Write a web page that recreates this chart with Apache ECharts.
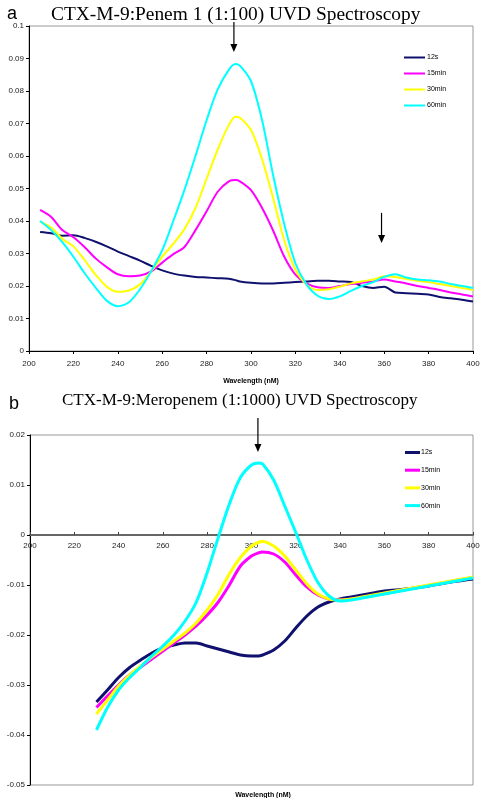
<!DOCTYPE html>
<html><head><meta charset="utf-8">
<script src="https://cdn.jsdelivr.net/npm/echarts@6/dist/echarts.min.js"></script>
<style>html,body{margin:0;padding:0;background:#fff}#c{width:480px;height:798px}</style>
</head><body><div id="c"></div>
<script>
// ---- Panel a data (CTX-M-9 : Penem 1) ----
const WL_A = [205,210,215,220,225,230,235,240,245,250,255,260,265,270,275,280,285,290,293,295,300,305,310,315,320,325,330,335,340,345,350,355,360,365,370,375,380,385,390,395,400];
const A_12S = [.0366,.0362,.0355,.0356,.0348,.0336,.0322,.0306,.0292,.0278,.0262,.0248,.0238,.0232,.0228,.0226,.0224,.0222,.0218,.0214,.0210,.0208,.0208,.0210,.0212,.0214,.0216,.0216,.0214,.0212,.0200,.0194,.0198,.0180,.0178,.0176,.0174,.0166,.0162,.0158,.0152];
const A_15M = [.0434,.0412,.0372,.0350,.0320,.0285,.0258,.0236,.0230,.0232,.0245,.0272,.0298,.0320,.0372,.0430,.0490,.0522,.0526,.0522,.0495,.0440,.0370,.0290,.0235,.0208,.0196,.0194,.0200,.0206,.0210,.0214,.0220,.0214,.0208,.0200,.0194,.0188,.0180,.0174,.0168];
const A_30M = [.0398,.0380,.0345,.0322,.0280,.0235,.0198,.0182,.0186,.0205,.0245,.0290,.0330,.0375,.0440,.0530,.0620,.0695,.0721,.0718,.0680,.0590,.0470,.0340,.0250,.0205,.0188,.0190,.0198,.0208,.0214,.0220,.0230,.0228,.0222,.0216,.0212,.0206,.0200,.0194,.0188];
const A_60M = [.0400,.0372,.0335,.0290,.0240,.0195,.0155,.0138,.0150,.0190,.0245,.0310,.0400,.0495,.0600,.0710,.0805,.0865,.0883,.0878,.0830,.0710,.0540,.0390,.0270,.0205,.0170,.0160,.0168,.0185,.0200,.0212,.0228,.0236,.0226,.0220,.0218,.0214,.0206,.0200,.0194];

// ---- Panel b data (CTX-M-9 : Meropenem) ----
const WL_B = [230,235,240,245,250,255,260,265,270,275,280,285,290,295,300,303,305,310,315,320,325,330,335,340,345,350,355,360,365,370,375,380,385,390,395,400];
const B_12S = [-.0334,-.0310,-.0285,-.0265,-.0250,-.0236,-.0226,-.0220,-.0216,-.0216,-.0222,-.0228,-.0234,-.0240,-.0242,-.0242,-.0240,-.0230,-.0212,-.0186,-.0162,-.0144,-.0134,-.0128,-.0124,-.0120,-.0116,-.0112,-.0110,-.0108,-.0105,-.0102,-.0098,-.0094,-.0091,-.0088];
const B_15M = [-.0345,-.0322,-.0300,-.0280,-.0264,-.0248,-.0232,-.0216,-.0200,-.0182,-.0160,-.0134,-.0100,-.0062,-.0042,-.0036,-.0034,-.0038,-.0054,-.0080,-.0104,-.0120,-.0128,-.0130,-.0128,-.0125,-.0121,-.0117,-.0113,-.0109,-.0105,-.0101,-.0097,-.0093,-.0089,-.0085];
const B_30M = [-.0358,-.0330,-.0302,-.0280,-.0262,-.0244,-.0228,-.0212,-.0196,-.0176,-.0150,-.0118,-.0078,-.0045,-.0022,-.0015,-.0013,-.0022,-.0042,-.0070,-.0098,-.0118,-.0128,-.0130,-.0128,-.0124,-.0120,-.0116,-.0112,-.0108,-.0104,-.0100,-.0096,-.0092,-.0088,-.0084];
const B_60M = [-.0390,-.0345,-.0310,-.0285,-.0264,-.0242,-.0222,-.0200,-.0172,-.0135,-.0075,-.0005,.0062,.0115,.0140,.0144,.0142,.0110,.0058,.0005,-.0050,-.0095,-.0122,-.0132,-.0130,-.0126,-.0122,-.0118,-.0114,-.0110,-.0106,-.0102,-.0098,-.0094,-.0090,-.0086];

const SERIES_NAMES = ['12s','15min','30min','60min'];
const COLORS = ['#10106e','#ff00ff','#ffff00','#00ffff'];
const TITLE_A = 'CTX-M-9:Penem 1 (1:100) UVD Spectroscopy';
const TITLE_B = 'CTX-M-9:Meropenem (1:1000) UVD Spectroscopy';
// arrows: [wavelength, from value, to value]
const ARROWS_A = [[292.3, 0.1012, 0.0920],[358.8, 0.0425, 0.0332]];
const ARROWS_B = [[302.9, 0.0234, 0.0166]];

const pair = (xs, ys) => xs.map((x,i)=>[x, ys[i]]);
const lab = {fontFamily:'Liberation Sans', fontSize:8, color:'#222'};
const nameSt = {fontFamily:'Liberation Sans', fontSize:7, fontWeight:'bold', color:'#000'};

const seriesA = [A_12S,A_15M,A_30M,A_60M].map((d,i)=>({
  name:SERIES_NAMES[i], type:'line', xAxisIndex:0, yAxisIndex:0, data:pair(WL_A,d),
  showSymbol:false, smooth:0.3, lineStyle:{width:2, color:COLORS[i]}, itemStyle:{color:COLORS[i]}, z:2+i
}));
const seriesB = [B_12S,B_15M,B_30M,B_60M].map((d,i)=>({
  name:SERIES_NAMES[i], type:'line', xAxisIndex:1, yAxisIndex:1, data:pair(WL_B,d),
  showSymbol:false, smooth:0.3, lineStyle:{width:3, color:COLORS[i]}, itemStyle:{color:COLORS[i]}, z:2+i
}));

const fmt = v => String(+v.toFixed(2));

const chart = echarts.init(document.getElementById('c'), null, {renderer:'canvas'});
chart.setOption({
  animation:false,
  backgroundColor:'#fff',
  title:[
    {text:'a', left:2, top:0, textStyle:{fontFamily:'Liberation Sans', fontSize:18, fontWeight:'normal', color:'#000'}},
    {text:TITLE_A, left:46, top:0, textStyle:{fontFamily:'Liberation Serif', fontSize:19.4, fontWeight:'normal', color:'#000'}},
    {text:'b', left:4, top:390, textStyle:{fontFamily:'Liberation Sans', fontSize:18, fontWeight:'normal', color:'#000'}},
    {text:TITLE_B, left:57, top:387, textStyle:{fontFamily:'Liberation Serif', fontSize:17, fontWeight:'normal', color:'#000'}},
    {text:'Wavelength (nM)', left:258, textAlign:'center', top:787, textStyle:nameSt}
  ],
  legend:[
    {data:SERIES_NAMES, orient:'vertical', left:399, top:49, icon:'rect', itemWidth:21, itemHeight:2, itemGap:9,
     textStyle:{fontFamily:'Liberation Sans', fontSize:7, color:'#000', padding:[0,0,0,-3]}, selectedMode:false},
    {data:SERIES_NAMES, orient:'vertical', left:400, top:444, icon:'rect', itemWidth:15, itemHeight:3, itemGap:10.7,
     textStyle:{fontFamily:'Liberation Sans', fontSize:7, color:'#000', padding:[0,0,0,-4]}, selectedMode:false}
  ],
  grid:[
    {left:29, right:7, top:26, height:325, show:true, borderColor:'#999', borderWidth:1, outerBoundsMode:'none', containLabel:false},
    {left:30, right:7, top:435, height:350, show:true, borderColor:'#999', borderWidth:1, outerBoundsMode:'none', containLabel:false}
  ],
  xAxis:[
    {type:'value', gridIndex:0, min:200, max:400, interval:20,
     axisLine:{lineStyle:{color:'#000', width:1}}, axisTick:{show:true, length:3, lineStyle:{color:'#000'}},
     axisLabel:Object.assign({margin:9}, lab), splitLine:{show:false},
     name:'Wavelength (nM)', nameLocation:'middle', nameGap:27, nameTextStyle:nameSt},
    {type:'value', gridIndex:1, min:200, max:400, interval:20, position:'bottom', offset:-250,
     axisLine:{onZero:false, lineStyle:{color:'#666', width:2}}, axisTick:{show:true, length:3, inside:true, lineStyle:{color:'#444'}},
     axisLabel:Object.assign({margin:7}, lab), splitLine:{show:false}}
  ],
  yAxis:[
    {type:'value', gridIndex:0, min:0, max:0.1, interval:0.01,
     axisLine:{show:true, lineStyle:{color:'#000'}}, axisTick:{show:true, length:3, lineStyle:{color:'#000'}},
     axisLabel:Object.assign({margin:5, formatter:fmt}, lab), splitLine:{show:false},
     name:'Absorbance', nameLocation:'middle', nameGap:21, nameTextStyle:nameSt},
    {type:'value', gridIndex:1, min:-0.05, max:0.02, interval:0.01,
     axisLine:{show:true, onZero:false, lineStyle:{color:'#000'}}, axisTick:{show:true, length:3, lineStyle:{color:'#000'}},
     axisLabel:Object.assign({margin:5, formatter:fmt}, lab), splitLine:{show:false},
     name:'Absorbance', nameLocation:'middle', nameGap:21, nameTextStyle:nameSt}
  ],
  series: seriesA.concat(seriesB)
});

// Annotation arrows positioned through the axes' scales
function arrowGraphics(list, gridIndex){
  const out = [];
  list.forEach(a=>{
    const p1 = chart.convertToPixel({gridIndex}, [a[0], a[1]]);
    const p2 = chart.convertToPixel({gridIndex}, [a[0], a[2]]);
    out.push({type:'line', shape:{x1:p1[0], y1:p1[1], x2:p2[0], y2:p2[1]-6}, style:{stroke:'#000', lineWidth:1.2}, z:100});
    out.push({type:'polygon', shape:{points:[[p2[0]-3.5,p2[1]-8],[p2[0]+3.5,p2[1]-8],[p2[0],p2[1]]]}, style:{fill:'#000'}, z:100});
  });
  return out;
}
chart.setOption({graphic: arrowGraphics(ARROWS_A,0).concat(arrowGraphics(ARROWS_B,1))});
</script></body></html>
